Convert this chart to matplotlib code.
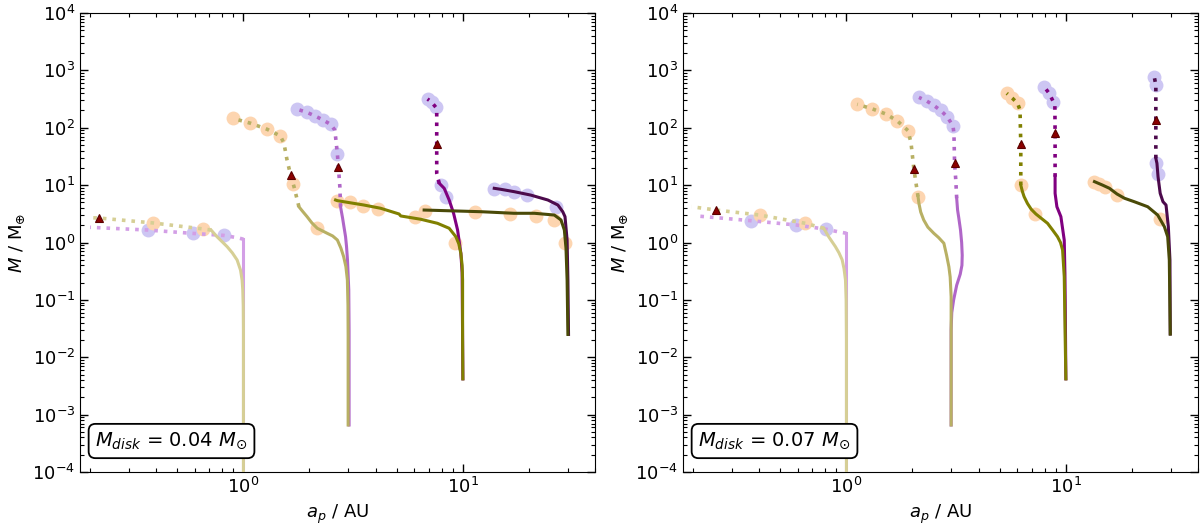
import numpy as np
import matplotlib
matplotlib.use('Agg')
from matplotlib import pyplot as plt

# tracks, (a_p [AU], M [M_earth]) pairs
# ---------------- left panel, M_disk = 0.04 ----------------
l1_ol_solid = [(1.0, 1.03e-4), (1.0, 0.03), (0.998, 0.08), (0.993, 0.15), (0.986, 0.222), (0.97, 0.33), (0.936, 0.495),
               (0.89, 0.66), (0.843, 0.845), (0.80, 1.03), (0.758, 1.26), (0.712, 1.65)]
l1_ol_dot = [(0.712, 1.65), (0.656, 1.72), (0.388, 2.19), (0.22, 2.67), (0.204, 2.7)]
l1_ol_circ = [(0.656, 1.72), (0.388, 2.19)]
l1_ol_tri = [(0.22, 2.67)]
l1_pu_solid = [(1.0, 1.03e-4), (1.0, 1.14)]
l1_pu_dot = [(1.0, 1.14), (0.95, 1.2), (0.813, 1.33), (0.589, 1.44), (0.366, 1.65), (0.2, 1.84)]
l1_pu_circ = [(0.813, 1.33), (0.589, 1.44), (0.366, 1.65)]

l3_ol_solid = [(3.0, 6.6e-4), (3.0, 0.0228), (2.995, 0.08), (2.976, 0.222), (2.93, 0.38), (2.862, 0.566), (2.78, 0.8),
               (2.68, 1.105), (2.55, 1.3), (2.41, 1.445), (2.17, 1.77), (2.05, 2.2), (1.95, 2.82), (1.86, 3.5), (1.79, 4.2)]
l3_ol_dot = [(1.79, 4.2), (1.70, 9.4), (1.64, 15.1), (1.58, 27.5), (1.53, 53.6), (1.475, 71.8), (1.283, 94), (1.076, 120), (0.894, 146)]
l3_ol_circ = [(0.894, 146), (1.076, 120), (1.283, 94), (1.475, 71.8), (1.68, 10.5), (2.17, 1.8)]
l3_ol_tri = [(1.64, 15.2)]
l3_pu_solid = [(3.03, 6.6e-4), (3.03, 0.0296), (3.02, 0.15), (2.98, 0.495), (2.95, 0.85), (2.92, 1.26), (2.87, 1.9),
               (2.83, 2.67), (2.77, 4.2)]
l3_pu_dot = [(2.77, 4.2), (2.75, 9.4), (2.71, 20.4), (2.68, 34.8), (2.61, 91), (2.50, 114), (2.31, 136), (2.13, 159), (1.95, 185), (1.76, 210)]
l3_pu_circ = [(2.68, 34.8), (2.50, 114), (2.31, 136), (2.13, 159), (1.95, 185), (1.76, 210)]
l3_pu_tri = [(2.71, 20.4)]

l10_ol_solid = [(10.0, 4.2e-3), (9.97, 0.0228), (9.97, 0.222), (9.92, 0.4), (9.79, 0.648), (9.58, 0.95), (9.29, 1.26),
                (8.66, 1.77), (7.66, 2.16), (6.43, 2.54), (5.21, 2.9), (5.12, 3.14), (4.22, 3.95), (3.54, 4.5),
                (2.68, 5.36), (2.63, 5.5)]
l10_ol_circ = [(2.68, 5.2), (3.06, 5.05), (3.52, 4.4), (4.12, 3.9), (6.04, 2.8), (9.2, 1.0)]
l10_pu_solid = [(10.0, 4.2e-3), (9.97, 0.0228), (9.92, 0.3), (9.79, 0.648), (9.46, 1.65), (9.07, 3.23), (8.66, 5.5),
                (8.22, 8.8), (7.8, 10.8)]
l10_pu_dot = [(7.8, 10.8), (7.6, 16.1), (7.6, 52), (7.6, 204), (7.53, 227), (7.2, 280), (6.9, 317)]
l10_pu_circ = [(7.94, 10), (8.34, 6.3), (7.53, 227), (7.2, 280), (6.9, 317)]
l10_pu_tri = [(7.6, 52)]

l30_ol_solid = [(30.1, 0.025), (29.85, 0.222), (29.5, 0.8), (29.0, 1.65), (28.0, 2.47), (26.1, 3.01), (21.2, 3.23),
                (17.1, 3.23), (12.1, 3.44), (8.51, 3.58), (6.66, 3.68)]
l30_ol_circ = [(6.7, 3.58), (11.3, 3.44), (16.4, 3.1), (21.5, 2.94), (25.9, 2.47), (29.3, 1.0)]
l30_pu_solid = [(30.3, 0.025), (30.1, 0.222), (29.85, 1.1), (29.2, 2.82), (28.5, 3.45), (27.1, 4.5), (24.4, 5.5),
                (20.4, 6.7), (17.1, 7.7), (14.9, 8.45), (13.9, 8.8)]
l30_pu_circ = [(13.9, 8.6), (15.6, 8.4), (17.1, 7.7), (19.6, 6.8), (26.6, 4.2)]

# ---------------- right panel, M_disk = 0.07 ----------------
r1_ol_solid = [(1.0, 1.03e-4), (1.0, 0.02), (0.997, 0.1), (0.99, 0.222), (0.975, 0.35), (0.956, 0.5), (0.925, 0.66),
               (0.891, 0.845), (0.83, 1.26), (0.788, 1.77)]
r1_ol_dot = [(0.788, 1.77), (0.65, 2.16), (0.402, 3.01), (0.255, 3.68), (0.197, 4.2)]
r1_ol_circ = [(0.65, 2.16), (0.402, 3.01)]
r1_ol_tri = [(0.255, 3.68)]
r1_pu_solid = [(1.0, 1.03e-4), (1.0, 1.45)]
r1_pu_dot = [(1.0, 1.45), (0.907, 1.55), (0.81, 1.7), (0.59, 2.02), (0.367, 2.4), (0.208, 2.9)]
r1_pu_circ = [(0.81, 1.7), (0.59, 2.02), (0.367, 2.4)]

r3_ol_solid = [(3.0, 6.6e-4), (3.0, 0.113), (2.97, 0.25), (2.93, 0.378), (2.86, 0.6), (2.78, 0.97), (2.63, 1.22),
               (2.5, 1.45), (2.35, 1.85), (2.25, 2.47), (2.18, 3.4), (2.14, 4.8), (2.12, 6.3)]
r3_ol_dot = [(2.12, 6.3), (2.03, 18.9), (1.97, 53.7), (1.91, 89), (1.70, 133), (1.51, 174), (1.31, 214), (1.12, 256)]
r3_ol_circ = [(2.12, 6.3), (1.91, 89), (1.70, 133), (1.51, 174), (1.31, 214), (1.12, 256)]
r3_ol_tri = [(2.03, 18.9)]
r3_pu_solid = [(3.0, 6.6e-4), (3.0, 0.03), (3.02, 0.06), (3.08, 0.1), (3.18, 0.18), (3.3, 0.28), (3.36, 0.4),
               (3.37, 0.6), (3.35, 1.0), (3.31, 1.65), (3.25, 2.7), (3.21, 3.68), (3.18, 5.9)]
r3_pu_dot = [(3.18, 5.9), (3.15, 12.3), (3.11, 24), (3.09, 79), (3.06, 107), (2.88, 155), (2.69, 200), (2.5, 245), (2.32, 293), (2.14, 338)]
r3_pu_circ = [(3.06, 107), (2.88, 155), (2.69, 200), (2.5, 245), (2.32, 293), (2.14, 338)]
r3_pu_tri = [(3.11, 24)]

r10_ol_solid = [(10.0, 4.2e-3), (9.93, 0.02), (9.83, 0.254), (9.66, 0.74), (9.45, 1.0), (9.16, 1.26), (8.7, 1.65),
                (8.25, 2.16), (7.3, 3.14), (6.95, 3.8), (6.68, 4.8), (6.45, 6.3), (6.34, 7.7), (6.23, 10)]
r10_ol_dot = [(6.23, 10), (6.23, 18.2), (6.23, 52), (6.18, 204), (6.02, 267), (5.71, 326), (5.38, 398)]
r10_ol_circ = [(6.23, 10), (7.24, 3.14), (6.02, 267), (5.71, 326), (5.38, 398)]
r10_ol_tri = [(6.23, 52)]
r10_pu_solid = [(10.0, 4.2e-3), (9.93, 0.1), (9.9, 0.29), (9.83, 1.1), (9.49, 2.82), (9.1, 4.2), (8.93, 7.2), (8.93, 14)]
r10_pu_dot = [(8.93, 14), (8.93, 18.2), (8.93, 81), (8.91, 245), (8.78, 281), (8.39, 398), (7.96, 519)]
r10_pu_circ = [(8.78, 281), (8.39, 398), (7.96, 519)]
r10_pu_tri = [(8.93, 81)]

r30_ol_solid = [(29.9, 0.0254), (29.6, 0.495), (29.1, 1.26), (28.1, 1.89), (26.2, 3.01), (23.6, 4.2), (20.5, 5.14),
                (18.5, 5.9), (17.1, 7.0), (15.8, 8.8), (14.7, 10), (13.5, 11.5)]
r30_ol_circ = [(13.5, 11.2), (14.2, 10.5), (15.1, 9.3), (17.1, 6.7), (26.9, 2.57)]
r30_pu_solid = [(29.9, 0.0254), (29.8, 0.495), (29.3, 1.89), (28.6, 4.5), (27.7, 5.14), (26.9, 7.2), (26.3, 14), (26.0, 24), (25.7, 29.3)]
r30_pu_dot = [(25.7, 29.3), (25.7, 53.6), (25.7, 136), (25.7, 398), (25.7, 555), (25.3, 758)]
r30_pu_circ = [(26.2, 15.6), (25.7, 24.5), (25.7, 555), (25.3, 758)]
r30_pu_tri = [(25.7, 136)]

disk_labels = ['0.04', '0.07']

# line colours by starting radius (1, 3, 10, 30 AU)
olive_cols = ['#d6cf95', '#b8b064', '#808000', '#4a4a08']
purple_cols = ['#d39fe6', '#b066c8', '#800080', '#4c0a4c']
circ_olive = '#fdd5b0'
circ_purple = '#cdc6f3'
tri_col = '#8b0000'

panels = [
    [  # left
        (purple_cols[0], l1_pu_solid, l1_pu_dot, l1_pu_circ, [], circ_purple),
        (purple_cols[1], l3_pu_solid, l3_pu_dot, l3_pu_circ, l3_pu_tri, circ_purple),
        (purple_cols[2], l10_pu_solid, l10_pu_dot, l10_pu_circ, l10_pu_tri, circ_purple),
        (purple_cols[3], l30_pu_solid, [], l30_pu_circ, [], circ_purple),
        (olive_cols[0], l1_ol_solid, l1_ol_dot, l1_ol_circ, l1_ol_tri, circ_olive),
        (olive_cols[1], l3_ol_solid, l3_ol_dot, l3_ol_circ, l3_ol_tri, circ_olive),
        (olive_cols[2], l10_ol_solid, [], l10_ol_circ, [], circ_olive),
        (olive_cols[3], l30_ol_solid, [], l30_ol_circ, [], circ_olive),
    ],
    [  # right
        (purple_cols[0], r1_pu_solid, r1_pu_dot, r1_pu_circ, [], circ_purple),
        (purple_cols[1], r3_pu_solid, r3_pu_dot, r3_pu_circ, r3_pu_tri, circ_purple),
        (purple_cols[2], r10_pu_solid, r10_pu_dot, r10_pu_circ, r10_pu_tri, circ_purple),
        (purple_cols[3], r30_pu_solid, r30_pu_dot, r30_pu_circ, r30_pu_tri, circ_purple),
        (olive_cols[0], r1_ol_solid, r1_ol_dot, r1_ol_circ, r1_ol_tri, circ_olive),
        (olive_cols[1], r3_ol_solid, r3_ol_dot, r3_ol_circ, r3_ol_tri, circ_olive),
        (olive_cols[2], r10_ol_solid, r10_ol_dot, r10_ol_circ, r10_ol_tri, circ_olive),
        (olive_cols[3], r30_ol_solid, [], r30_ol_circ, [], circ_olive),
    ],
]

fig = plt.figure(figsize=(12, 5.29), dpi=100)
lefts = [80 / 1200, 683 / 1200]

for k, tracks in enumerate(panels):
    ax = fig.add_axes([lefts[k], 57 / 529, 515 / 1200, 459 / 529])
    for i, (col, solid, dot, circ, tri, ccol) in enumerate(tracks):
        z = 3 + i * 0.1
        if circ:
            c = np.array(circ)
            ax.plot(c[:, 0], c[:, 1], 'o', ms=10, color=ccol, mec='none', zorder=2)
        s = np.array(solid)
        ax.plot(s[:, 0], s[:, 1], '-', color=col, lw=2.2, zorder=z)
        if dot:
            d = np.array(dot)
            ax.plot(d[:, 0], d[:, 1], ':', color=col, lw=2.6, zorder=z)
        if tri:
            t = np.array(tri)
            ax.plot(t[:, 0], t[:, 1], '^', ms=6, color=tri_col, mec='#5a0000', mew=0.8, zorder=5)

    ax.set_xscale('log')
    ax.set_yscale('log')
    ax.set_xlim(0.18, 40)
    ax.set_ylim(1e-4, 1e4)
    ax.set_yticks([10.0 ** p for p in range(-4, 5)])
    ax.yaxis.set_minor_locator(matplotlib.ticker.LogLocator(base=10, subs=np.arange(2, 10), numticks=20))
    ax.tick_params(which='both', direction='in', top=True, right=True, labelsize=13)
    ax.tick_params(which='major', length=6, width=1)
    ax.tick_params(which='minor', length=3, width=0.8)
    ax.set_xlabel('$a_p$ / AU', fontsize=13)
    ax.set_ylabel(r'$M$ / M$_{\oplus}$', fontsize=13)
    ax.text(0.03, 0.045, r'$M_{disk}$ = ' + disk_labels[k] + r' $M_{\odot}$', transform=ax.transAxes,
            fontsize=14, ha='left', va='bottom', zorder=10,
            bbox=dict(boxstyle='round,pad=0.35', fc='white', ec='black', lw=1.3))

fig.savefig('out.png', dpi=100)
